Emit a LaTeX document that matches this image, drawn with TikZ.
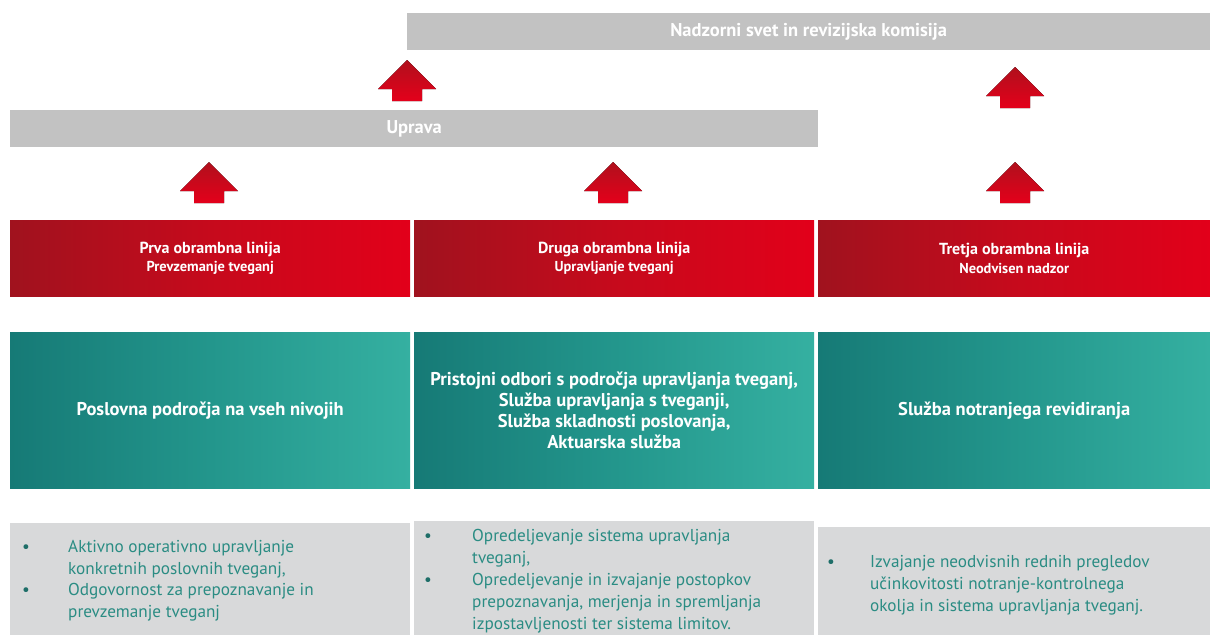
\documentclass[tikz,border=0pt]{standalone}
\usepackage{fontspec}
\setmainfont{PT Sans}
\usetikzlibrary{calc}
\definecolor{bargray}{HTML}{C2C2C2}
\definecolor{boxgray}{HTML}{D8D9DA}
\definecolor{reddark}{HTML}{A0121E}
\definecolor{redmid}{HTML}{C60A1C}
\definecolor{redbright}{HTML}{E2001A}
\definecolor{tealdark}{HTML}{167A76}
\definecolor{tealmid}{HTML}{23968C}
\definecolor{teallight}{HTML}{35B0A1}
\definecolor{tealtext}{HTML}{2A8C83}
\definecolor{bulletc}{HTML}{1E6E68}
\definecolor{arrdark}{HTML}{B0101C}
\definecolor{arrbright}{HTML}{E4001B}
\begin{document}
\begin{tikzpicture}[x=1pt,y=-1pt,
  graybar/.style={fill=bargray, draw=none, anchor=north west, minimum height=37pt, inner sep=0pt,
    text=white, font=\fontsize{18.5}{20}\selectfont\bfseries},
  redbox/.style={left color=reddark, right color=redbright, middle color=redmid, draw=none,
    anchor=north west, minimum height=76pt, inner sep=0pt, text=white, align=center},
  tealbox/.style={left color=tealdark, right color=teallight, middle color=tealmid, draw=none,
    anchor=north west, minimum height=156pt, inner sep=0pt, text=white, align=center,
    font=\fontsize{18.5}{21}\selectfont\bfseries},
  graybox/.style={fill=boxgray, draw=none, anchor=north west, inner sep=0pt},
  bullettext/.style={anchor=north west, inner sep=0pt, text=tealtext,
    font=\fontsize{17.2}{22}\selectfont},
  uparrow/.pic={\fill[top color=arrdark, bottom color=arrbright]
    (0,0) -- (29,29) -- (15,29) -- (15,41) -- (-15,41) -- (-15,29) -- (-29,29) -- cycle;}
]
\fill[white] (0,0) rectangle (1210,635);
\useasboundingbox (0,0) rectangle (1210,635);

% top bars
\node[graybar, minimum width=803pt] (nadzor) at (407,13) {Nadzorni svet in revizijska komisija};
\node[graybar, minimum width=808pt] (uprava) at (10,110) {Uprava};

% red boxes
\node[redbox, minimum width=400pt] (r1) at (10,220)
  {{\fontsize{16}{18}\selectfont\bfseries Prva obrambna linija}\\[4pt]{\fontsize{14.4}{15}\selectfont\bfseries Prevzemanje tveganj}};
\node[redbox, minimum width=400pt] (r2) at (414,220)
  {{\fontsize{16}{18}\selectfont\bfseries Druga obrambna linija}\\[4pt]{\fontsize{14.4}{15}\selectfont\bfseries Upravljanje tveganj}};
\node[redbox, minimum width=392pt] (r3) at (818,220)
  {{\fontsize{16}{18}\selectfont\bfseries Tretja obrambna linija}\\[4pt]{\fontsize{14.4}{15}\selectfont\bfseries Neodvisen nadzor}};

% teal boxes
\node[tealbox, minimum width=400pt] (t1) at (10,332) {Poslovna področja na vseh nivojih};
\node[tealbox, minimum width=400pt] (t2) at (414,332)
  {Pristojni odbori s področja upravljanja tveganj,\\Služba upravljanja s tveganji,\\Služba skladnosti poslovanja,\\Aktuarska služba};
\node[tealbox, minimum width=392pt] (t3) at (818,332) {Služba notranjega revidiranja};

% gray boxes
\node[graybox, minimum width=400pt, minimum height=112pt] (g1) at (10,523) {};
\node[graybox, minimum width=400pt, minimum height=114pt] (g2) at (414,521) {};
\node[graybox, minimum width=392pt, minimum height=108pt] (g3) at (818,527) {};

\node[bullettext] (b1) at (22,537) {%
  \begin{tabular}{@{}p{46pt}@{}l@{}}
  \textcolor{bulletc}{\textbullet} & Aktivno operativno upravljanje\\[-0.5pt]
  & konkretnih poslovnih tveganj,\\[-0.5pt]
  \textcolor{bulletc}{\textbullet} & Odgovornost za prepoznavanje in\\[-0.5pt]
  & prevzemanje tveganj
  \end{tabular}};
\node[bullettext] (b2) at (424,526) {%
  \begin{tabular}{@{}p{48pt}@{}l@{}}
  \textcolor{bulletc}{\textbullet} & Opredeljevanje sistema upravljanja\\
  & tveganj,\\
  \textcolor{bulletc}{\textbullet} & Opredeljevanje in izvajanje postopkov\\
  & prepoznavanja, merjenja in spremljanja\\
  & izpostavljenosti ter sistema limitov.
  \end{tabular}};
\node[bullettext] (b3) at (827,552) {%
  \begin{tabular}{@{}p{43pt}@{}l@{}}
  \textcolor{bulletc}{\textbullet} & Izvajanje neodvisnih rednih pregledov\\
  & učinkovitosti notranje-kontrolnega\\
  & okolja in sistema upravljanja tveganj.
  \end{tabular}};

% block arrows
\pic at (407,60) {uparrow};
\pic at (1015,67) {uparrow};
\pic at (209,162) {uparrow};
\pic at (613,162) {uparrow};
\pic at (1015,162) {uparrow};
\end{tikzpicture}
\end{document}
